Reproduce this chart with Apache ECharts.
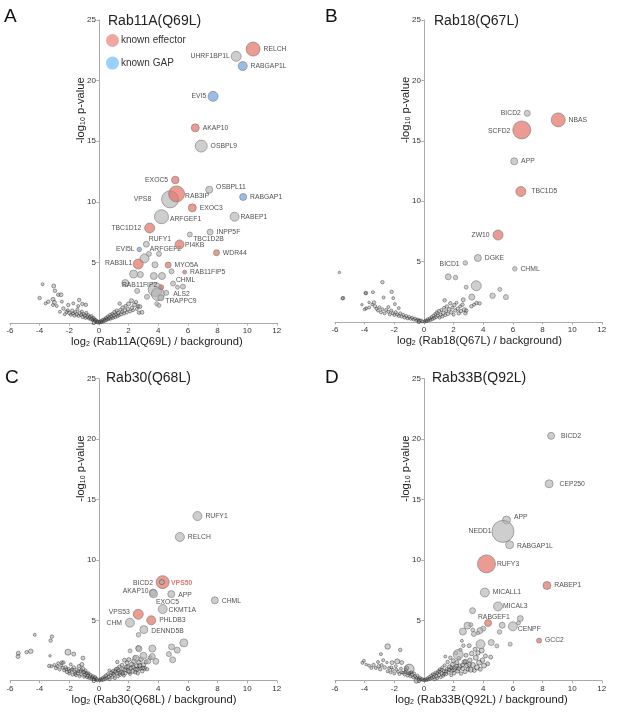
<!DOCTYPE html>
<html><head><meta charset="utf-8">
<style>html,body{margin:0;padding:0;background:#fff}#c{width:617px;height:717px}</style>
<script src="https://cdn.jsdelivr.net/npm/echarts@6/dist/echarts.min.js"></script>
</head><body><div id="c"></div>
<script>
// point = [log2 ratio, -log10 p, marker diameter, gene]
const effectorA=[[10.4,22.6,14,'RELCH'],[6.5,16.1,8,'AKAP10'],[5.15,11.8,7.5,'EXOC5'],[5.24,10.65,16,'RAB3IP'],[6.3,9.5,8,'EXOC3'],[3.42,7.84,10,'TBC1D12'],[5.44,6.48,9,'PI4KB'],[7.93,5.8,6,'WDR44'],[2.65,4.86,10,'RAB3IL1'],[4.67,4.78,6,'MYO5A'],[5.78,4.2,4,'RAB11FIP5'],[4.2,2.95,5,'RAB11FIP2']];
const gapA=[[9.7,21.2,9,'RABGAP1L'],[7.7,18.7,10,'EVI5'],[9.73,10.4,7,'RABGAP1'],[2.72,6.07,4.5,'EVI5L']];
const otherA=[[9.26,22,10,'UHRF1BP1L'],[6.9,14.6,12,'OSBPL9'],[7.44,11,7,'OSBPL11'],[4.8,10.2,17,'VPS8'],[4.22,8.77,14,'ARFGEF1'],[9.15,8.77,9,'RABEP1'],[7.5,7.5,6,'INPP5F'],[6.13,7.3,5,'TBC1D2B'],[3.2,6.5,6,'RUFY1'],[3.37,5.7,5,'ARFGEF2'],[3.07,5.33,9,''],[4.05,5.7,5,''],[3.78,4.8,6,''],[4.9,4.26,5,''],[2.34,4.04,8,''],[2.8,4,6,''],[3.7,3.88,7,''],[4.25,3.88,7,''],[5,3.25,5,'CHML'],[1.78,3.3,7,''],[5.3,2.95,4,''],[5.67,3,5,''],[3.8,2.76,14,''],[3.98,2.38,13,''],[2.58,2.65,5,''],[3.24,2.16,5,''],[4.54,2.49,5,'ALS2'],[4.18,2.08,6,'TRAPPC9'],[3.9,1.58,4,''],[4.05,1.45,4,'']];
const cloudA=[[-3.8,3.2,3],[-3.05,3.05,4],[-2.97,2.66,3.5],[-2.75,2.33,3.5],[-2.56,2.33,4],[-4,2.06,3.5],[-3.6,1.62,3],[-3.42,1.76,3.5],[-3.1,1.95,4],[-3,1.7,4],[-3.1,1.48,3],[-2.85,1.4,3],[-2.5,1.76,3],[-2.4,1.2,3.5],[-2.63,.93,3],[-2.07,1.48,3.5],[-1.73,1.62,3],[-1.33,1.9,3.5],[-1.12,1.57,3.5],[-.88,1.5,3.5],[-1.4,1.4,3],[-2.18,.93,3.5],[-2.3,.72,3],[-2.1,1.05,3],[-2,.82,3.5],[-1.9,.68,3],[-1.8,1.02,3.5],[-1.75,.78,3],[-1.65,.62,3.5],[-1.6,.9,3],[-1.5,.72,3.5],[-1.45,1.12,3],[-1.38,.58,3],[-1.3,.82,3.5],[-1.2,.66,3],[-1.15,.95,3],[-1.1,.5,3.5],[-1.02,.74,3],[-.95,.6,3.5],[-.9,.42,3],[-.85,.85,3],[-.78,.52,3.5],[-.72,.66,3],[-.68,.38,3],[-.6,.48,3.5],[-.55,.3,3],[-.5,.58,3],[-.45,.36,3.5],[-.4,.22,3],[-.35,.42,3],[-.3,.28,3],[-.25,.16,3.5],[-.2,.24,3],[-.16,.1,3],[-.1,.14,3],[-.06,.05,3.5],[.04,.05,3],[.1,.1,3.5],[.15,.16,3],[.2,.08,3],[.25,.24,3.5],[.3,.14,3],[.36,.3,3],[.4,.2,3.5],[.46,.42,3],[.5,.24,3],[.55,.36,3.5],[.6,.55,3],[.66,.3,3],[.7,.44,3.5],[.75,.68,3],[.8,.36,3],[.85,.55,3.5],[.9,.76,3],[.95,.42,3],[1,.62,3.5],[1.05,.9,3.5],[1.1,.48,3],[1.15,.72,3],[1.2,1.02,3.5],[1.25,.56,3],[1.3,.82,3.5],[1.35,.64,3],[1.4,1.6,3.5],[1.45,1.1,3],[1.5,.72,3.5],[1.55,.9,3],[1.6,1.28,3.5],[1.7,.78,3],[1.75,1.05,3.5],[1.8,1.42,3],[1.88,.86,3],[1.95,1.15,3.5],[2,1.58,4],[2.1,.95,3],[2.2,1.84,4],[2.22,1.25,3.5],[2.3,1.05,3],[2.4,1.5,4],[2.5,1.72,3.5],[2.55,1.15,3],[2.65,1.38,3.5],[2.76,1.35,4],[2.7,.85,3.5],[2.9,.88,4]];

const effectorB=[[9.06,16.73,14,'NBAS'],[6.6,15.9,18,'SCFD2'],[6.54,10.8,10,'TBC1D5'],[5,7.2,10,'ZW10']];
const otherB=[[6.97,17.28,6,'BICD2'],[6.09,13.3,7,'APP'],[3.64,5.3,7,'DGKE'],[2.79,4.89,4.5,'BICD1'],[6.13,4.4,4.5,'CHML'],[1.64,3.74,6,''],[2.13,3.68,4.5,''],[2.85,2.88,4,''],[3.53,3,10,''],[5.12,2.7,4,''],[4.63,2.17,5.5,''],[5.53,2.06,5,''],[3.23,2.06,6,'']];
const cloudB=[[-5.7,4.1,2.5],[-5.45,1.98,3.5],[-5.5,1.95,3],[-2.8,3.3,3.5],[-3.9,2.4,3.5],[-3.95,2.38,3],[-3.44,2.47,3],[-2.18,2.5,3.5],[-2.72,2.03,3],[-2.07,1.98,3],[-4.18,1.43,2.5],[-3.7,1.62,2.5],[-3.37,1.62,3.5],[-1.96,1.48,3],[-2.4,1.24,3],[-1.7,1.15,3],[-3.9,1.13,3],[-4,1.05,3],[-3.7,1.2,3],[-3.3,1.3,3.5],[-3.5,1.45,2.5],[-3.2,1.1,3],[-3.1,.95,3],[-3,1.22,3],[-2.9,.8,3],[-2.8,1.05,3],[-2.65,.72,3],[-2.55,1,3],[-2.4,.85,3],[-2.3,.62,3],[-2.2,.95,3],[-2.1,.72,3],[-2,.58,3],[-1.9,.82,3],[-1.8,.62,3],[-1.7,.5,3],[-1.6,.72,3],[-1.5,.45,3],[-1.4,.6,3],[-1.3,.36,3],[-1.2,.5,3],[-1.1,.3,3],[-1,.42,3],[-.9,.26,3],[-.8,.36,3],[-.7,.2,3],[-.6,.28,3],[-.5,.14,3],[-.4,.2,3],[-.3,.1,3],[-.2,.13,3],[-.1,.05,3],[.05,.04,3],[.12,.12,3],[.2,.08,3],[.26,.22,3],[.32,.14,3],[.4,.3,3],[.46,.18,3],[.52,.42,3],[.58,.24,3],[.64,.52,3],[.7,.32,3],[.76,.66,3],[.82,.4,3],[.88,.78,3.5],[.94,.52,3],[1,.9,3.5],[1.06,.36,3],[1.12,.62,3],[1.18,1,3],[1.24,.45,3],[1.3,.75,3.5],[1.4,1.8,3.5],[1.36,1.18,3],[1.44,.56,3],[1.5,.9,3],[1.55,1.28,3.5],[1.62,.68,3.5],[1.7,1.05,3.5],[1.78,1.55,3.5],[1.85,.8,3.5],[1.92,1.2,3],[2,.6,3],[2.05,1.4,3.5],[2.12,.95,3.5],[2.2,1.6,3],[2.28,1.1,3.5],[2.35,.72,3.5],[2.45,1.3,3],[2.5,.9,3.5],[2.6,1.44,3.5],[2.65,1.84,4],[2.72,1.02,4],[2.8,.72,3.5],[2.86,.95,3.5],[3.2,1.3,3.5],[3.55,1.57,3.5],[3.75,1.54,3.5],[3.38,1.44,3]];

const effectorC=[[4.3,8.16,13,'VPS50'],[2.65,5.5,10,'VPS53'],[3.53,5,9,'PHLDB3']];
const otherC=[[6.65,13.63,9,'RUFY1'],[5.46,11.9,9,'RELCH'],[3.64,7.3,7,'AKAP10'],[3.68,7.2,8,'EXOC5'],[4.88,7.17,7,'APP'],[7.82,6.65,7,'CHML'],[4.3,5.93,9,'CKMT1A'],[2.09,4.8,9,'CHM'],[3.03,4.23,8,'DENND5B'],[2.67,3.8,4.5,''],[5.73,3.13,8,''],[3.6,2.66,7,''],[2.7,2.64,6,''],[2.1,2.47,4,''],[4.9,2.8,6,''],[5.28,2.53,6,''],[4.72,2.2,5,''],[4.97,1.73,6,''],[3,2.06,7,''],[3.6,2,6,''],[3.84,1.6,6,''],[3.33,1.6,5,''],[2.5,1.87,6,'']];
const overlapC=[[4.25,8.16,5,'BICD2']];
const cloudC=[[-5.44,2.28,4],[-5.46,2,4],[-4.88,2.36,3.5],[-4.6,2.44,4.5],[-4.33,3.8,3],[-3.17,3.65,3.5],[-3.26,3.32,3.5],[-3.3,2.06,2.5],[-2.09,2.36,6],[-1.7,2.2,4],[-1.08,1.87,4],[-3.35,1.22,3.5],[-3.2,1.2,3],[-3,1.3,3],[-2.9,1.05,3.5],[-2.75,1.45,3],[-2.65,.92,3],[-2.55,1.25,3],[-2.5,1.5,3.5],[-2.4,1.5,3.5],[-2.35,.85,3],[-2.25,1.1,3.5],[-2.15,.72,3.5],[-2.05,.98,3],[-2,.6,3],[-1.9,1.35,3],[-1.85,.85,3.5],[-1.78,.5,3],[-1.7,1.1,3.5],[-1.62,.72,3],[-1.55,.45,3],[-1.5,.9,3.5],[-1.42,.62,3],[-1.35,1.2,3.5],[-1.3,.36,3],[-1.25,.78,3],[-1.2,.52,3],[-1.15,1.35,4],[-1.1,1,4],[-1.05,.68,3],[-1,.32,3],[-.95,.48,3.5],[-.9,.85,3],[-.85,.6,3],[-.8,.28,3],[-.75,.42,3.5],[-.7,.62,3],[-.65,.22,3],[-.6,.34,3.5],[-.55,.48,3],[-.5,.18,3],[-.45,.28,3],[-.4,.38,3],[-.35,.12,3],[-.3,.22,3],[-.25,.3,3],[-.2,.08,3],[-.15,.16,3],[-.1,.04,3],[.06,.06,3],[.12,.14,3],[.18,.04,3],[.24,.22,3],[.3,.1,3.5],[.36,.32,3],[.42,.16,3],[.48,.42,3.5],[.54,.22,3],[.6,.55,3],[.66,.3,3.5],[.72,.12,3],[.78,.46,3],[.84,.66,3.5],[.9,.3,3],[.96,.8,3.5],[1.02,.5,3.5],[1.08,.2,3],[1.14,.95,3.5],[1.2,.62,3.5],[1.24,1.55,3.5],[1.28,.36,3],[1.32,.85,3.5],[1.38,1.15,3.5],[1.44,.5,3.5],[1.5,.72,4],[1.56,1.3,3.5],[1.62,.95,4],[1.68,.42,3],[1.72,1.7,4],[1.78,.62,3.5],[1.84,1.12,4],[1.9,1.48,4],[1.96,.82,4],[2.02,1.75,4],[2.1,.55,3],[2.16,1.05,4],[2.22,1.35,4.5],[2.28,.78,4],[2.36,1.6,4.5],[2.42,1.9,4],[2.48,.95,4],[2.55,1.22,4.5],[2.62,.62,3.5],[2.7,1.5,4.5],[2.78,1.02,4],[2.85,1.78,4.5],[2.92,.8,4],[3,1.3,4.5],[3.08,1.02,4],[3.18,1.55,4],[3.25,.95,3.5],[3.46,1.9,4],[2.65,2.7,5],[.7,.85,3],[.95,.6,3],[1.1,.75,3.5],[1.25,1,3.5],[1.4,.65,3.5],[1.6,.6,3.5],[1.75,.9,4],[1.95,1.15,4],[2.05,.75,4],[2.3,1.15,4],[2.45,.7,3.5],[2.6,.95,4],[2.75,1.25,4.5],[2.95,1.05,4],[-.8,.62,3],[-1,.72,3],[-1.2,.9,3],[-1.4,.8,3],[-1.6,.58,3],[-1.8,.95,3],[-2,.78,3],[-2.2,.95,3],[-2.45,1.08,3],[-2.8,1.18,3]];

const effectorD=[[4.22,9.67,18,'RUFY3'],[8.3,7.88,8,'RABEP1'],[4.33,4.78,7,'RABGEF1'],[7.77,3.32,5,'GCC2']];
const otherD=[[8.58,20.27,7,'BICD2'],[8.45,16.3,8,'CEP250'],[5.57,13.3,8,'APP'],[5.33,12.36,22,'NEDD1'],[5.78,11.26,8,'RABGAP1L'],[12.45,6.95,10,'RAB8A'],[4.11,7.3,9,'MICALL1'],[5,6.15,9,'MICAL3'],[6,4.5,9,'CENPF'],[3.28,5.8,6,''],[2.94,4.56,7,''],[3.17,4.64,4,''],[2.63,4.07,7,''],[4,4.31,5,''],[3.78,4.15,6,''],[3.3,4.2,4,''],[3.37,3.87,5,''],[3.65,3.95,3.5,''],[6.5,5.14,6,''],[6.38,4.78,4,''],[5.28,4.59,6,''],[5.1,4.04,4.5,''],[5.82,3.02,4,''],[4.92,2.88,4,''],[4.54,3.16,6,''],[3.82,3.02,9,''],[2.31,2.17,10,'']];
const cloudD=[[-2.45,2.83,5.5],[-1.6,2.55,3.5],[-2.9,2.2,3],[-4.15,1.48,3],[-4.05,1.65,3],[-3.9,1.35,2.5],[-3.7,1.25,3],[-3.55,1.05,3],[-3.4,1.3,3.5],[-3.25,1.05,3],[-3.1,1.55,3],[-3.05,1.2,3.5],[-2.95,.95,3.5],[-2.85,1.3,3],[-2.75,1.7,3],[-2.65,1.1,3.5],[-2.5,1.5,2.5],[-2.45,.78,3],[-2.35,1.05,3],[-2.25,.7,3],[-2.15,1.5,4],[-2.1,.9,3],[-2,.6,3],[-1.9,1.2,3],[-1.8,1.6,5],[-1.75,.75,3],[-1.65,.55,3],[-1.55,1,3],[-1.5,1.5,4],[-1.42,.66,3],[-1.3,.5,3],[-1.2,.9,3.5],[-1.15,1.05,4],[-1.1,.42,3],[-1,.96,10],[-.95,.64,3],[-.9,.36,3],[-.8,.5,3.5],[-.72,.28,3],[-.66,.6,3],[-.6,.36,3],[-.5,.22,3],[-.5,0,5],[-.44,.42,3],[-.36,.16,3],[-.28,.26,3],[-.2,.1,3],[-.12,.15,3],[-.06,.05,3],[.06,.05,3],[.12,.12,3],[.18,.05,3],[.24,.2,3],[.3,.1,3],[.36,.3,3],[.42,.16,3],[.48,.42,3],[.54,.22,3],[.6,.54,3],[.66,.3,3],[.72,.12,3],[.78,.66,3],[.84,.38,3.5],[.9,.2,3],[.96,.8,3],[1.02,.48,3.5],[1.08,.95,3],[1.14,.3,3],[1.2,.62,3.5],[1.24,1.1,3],[1.3,.4,3],[1.36,.78,3.5],[1.4,1.28,3],[1.44,2,3],[1.48,.55,3.5],[1.54,.95,3.5],[1.6,1.55,3.5],[1.66,.68,3.5],[1.72,1.15,4],[1.78,1.9,3.5],[1.84,.45,3],[1.88,.85,4],[1.92,1.35,4],[1.98,1.65,4],[2.04,.62,3.5],[2.1,1.05,4.5],[2.16,2.3,3.5],[2.22,1.5,4],[2.28,.8,4],[2.36,1.85,4],[2.42,1.2,4.5],[2.46,2.55,3.5],[2.5,.6,3.5],[2.56,3.3,3],[2.62,1,4],[2.66,2.9,3.5],[2.72,1.55,4.5],[2.78,.75,4],[2.84,2.1,4],[2.9,1.25,4.5],[2.98,.95,4],[3.05,2.9,4],[3.1,1.7,4.5],[3.16,.9,5],[3.22,2.25,4.5],[3.3,1.3,5],[3.4,.85,4],[3.45,2.6,4],[3.5,1.9,5],[3.58,1.1,5],[3.64,2.3,4.5],[3.72,1.5,5],[3.8,.95,4],[3.9,2.5,5],[3.95,1.7,4.5],[4.05,1.25,5],[4.15,2.05,4],[4.3,1.4,4],[4.5,1.95,4],[.7,.5,3],[.9,.62,3],[1.05,.75,3],[1.2,.9,3],[1.35,.55,3],[1.5,.78,3.5],[1.7,.92,3.5],[1.85,1.05,3.5],[2,.9,4],[2.2,1.2,4],[2.35,1,4],[2.6,1.3,4],[2.8,1.6,4],[3.05,1.35,4.5],[-.85,.7,3],[-1.05,.6,3],[-1.25,.72,3],[-1.5,.7,3],[-1.85,.9,3],[-2.2,1.1,3]];

const panels=[
 {letter:'A',title:'Rab11A(Q69L)',left:10,top:20,h:303,xName:'Rab11A(Q69L)',xShift:27,lx:4,ly:7,tx:108,ty:14,eff:effectorA,gap:gapA,other:otherA,top2:[],cloud:cloudA},
 {letter:'B',title:'Rab18(Q67L)',left:335,top:20,h:302,xName:'Rab18(Q67L)',xShift:22,lx:325,ly:7,tx:434,ty:14,eff:effectorB,gap:[],other:otherB,top2:[],cloud:cloudB},
 {letter:'C',title:'Rab30(Q68L)',left:10,top:378.7,h:302,xName:'Rab30(Q68L)',xShift:21,lx:5,ly:368,tx:106,ty:371,eff:effectorC,gap:[],other:otherC,top2:overlapC,cloud:cloudC},
 {letter:'D',title:'Rab33B(Q92L)',left:335,top:378.7,h:302,xName:'Rab33B(Q92L)',xShift:26,lx:325,ly:368,tx:432,ty:371,eff:effectorD,gap:[],other:otherD,top2:[],cloud:cloudD}
];
// label placement per panel: [side, dx, dy]; anything missing sits on the right
const placement=[
 {UHRF1BP1L:['left',2,0],EVI5:['left',1.5,0],EXOC5:['left',0,0],VPS8:['left',-7,0],TBC1D12:['left',0,0],EVI5L:['left',1,0],RAB3IL1:['left',2.5,-1],RAB11FIP2:['left',2,-2],OSBPL11:['right',0,-3],RAB3IP:['right',-3,2],ARFGEF1:['right',-2,2],RABEP1:['right',-2,0],TBC1D2B:['right',-2.5,5],RUFY1:['right',-4,-5],PI4KB:['right',-2.5,1],ARFGEF2:['right',-5,-5],CHML:['right',-3,-3],ALS2:['right',1,1],TRAPPC9:['right',-2,3]},
 {BICD2:['left',0,0],SCFD2:['left',1,1.5],TBC1D5:['right',2,0],ZW10:['left',0,0],BICD1:['left',0,1]},
 {BICD2:['left',-3,1],AKAP10:['left',2.5,-1],EXOC5:['right',-5,8],VPS50:['right',-1.5,1],APP:['right',0,1],CHML:['right',0,1],CKMT1A:['right',-2,1],VPS53:['left',0,-2],CHM:['left',0,0],DENND5B:['right',0,2]},
 {BICD2:['right',3,0],CEP250:['right',3,0],APP:['right',0,-3],NEDD1:['left',3,0],RABGAP1L:['right',0,1],RUFY3:['right',-2,0],RAB8A:['left',0,0],MICAL3:['right',-3,0],RABGEF1:['top',5.7,5],CENPF:['right',-3,3]}
];
const RED='rgba(226,112,98,.88)',BLUE='rgba(118,165,222,.92)',GREY='rgba(178,178,178,.8)';
const EDGE='#7c7c7c';
const FONT='Liberation Sans';
const series=[],grid=[],xAxis=[],yAxis=[],title=[];
function toData(arr,pi){return arr.map(p=>{
  const d={value:[p[0],p[1],p[2]],name:p[3]};
  if(p[3]){const pl=placement[pi][p[3]]||['right',0,0];
    d.label={show:true,position:pl[0],offset:[pl[1],pl[2]],formatter:p[3],distance:3,fontSize:6.8,fontFamily:FONT,color:p[3]==='VPS50'?'#d9534f':'#222',fontWeight:p[3]==='VPS50'?'bold':'normal'};}
  return d;});}
const subStyle={fontSize:7,fontFamily:FONT,color:'#222',padding:[5,0,0,0]};
panels.forEach((p,i)=>{
  const zeroOffset=-266.8*6/18;
  grid.push({left:p.left,top:p.top,width:266.8,height:p.h,containLabel:false,outerBoundsMode:'none'});
  xAxis.push({gridIndex:i,type:'value',min:-6,max:12,interval:2,splitLine:{show:false},
    axisLine:{onZero:false,lineStyle:{color:'#aaa',width:1}},axisTick:{length:2.5,lineStyle:{color:'#aaa'}},
    axisLabel:{fontSize:8,color:'#333',fontFamily:FONT,margin:4,showMinLabel:true,showMaxLabel:true},
    name:'log{s|2} ('+p.xName+' / background)',nameLocation:'middle',nameGap:13,
    nameTextStyle:{fontSize:11.2,color:'#222',fontFamily:FONT,padding:[0,0,0,p.xShift],rich:{s:subStyle}}});
  yAxis.push({gridIndex:i,type:'value',min:0,max:25,interval:5,position:'left',offset:zeroOffset,splitLine:{show:false},
    axisLine:{onZero:false,lineStyle:{color:'#aaa',width:1}},axisTick:{length:2.5,lineStyle:{color:'#aaa'}},
    axisLabel:{fontSize:8,color:'#333',fontFamily:FONT,margin:3},
    name:'-log{s|10} p-value',nameLocation:'middle',nameGap:12,nameRotate:90,nameMoveOverlap:false,
    nameTextStyle:{fontSize:11.2,color:'#222',fontFamily:FONT,padding:[0,0,0,122],rich:{s:subStyle}}});
  title.push({text:p.letter,left:p.lx,top:p.ly,padding:0,textStyle:{fontSize:19,fontWeight:'normal',color:'#111',fontFamily:FONT}});
  title.push({text:p.title,left:p.tx,top:p.ty,padding:0,textStyle:{fontSize:14,fontWeight:'normal',color:'#222',fontFamily:FONT}});
  const base={type:'scatter',xAxisIndex:i,yAxisIndex:i,symbolSize:v=>v[2],animation:false,emphasis:{disabled:true}};
  series.push({...base,name:'cloud'+p.letter,data:p.cloud.map(c=>({value:c})),z:1,itemStyle:{color:'rgba(140,140,140,.5)',borderColor:'rgba(30,30,30,.75)',borderWidth:.7}});
  series.push({...base,name:'other'+p.letter,data:toData(p.other,i),z:2,itemStyle:{color:GREY,borderColor:EDGE,borderWidth:.8}});
  series.push({...base,name:i===0?'known effector':'effector'+p.letter,data:toData(p.eff,i),z:3,itemStyle:{color:RED,borderColor:EDGE,borderWidth:.8}});
  if(p.gap.length)series.push({...base,name:'known GAP',data:toData(p.gap,i),z:3,itemStyle:{color:BLUE,borderColor:EDGE,borderWidth:.8}});
  if(p.top2.length)series.push({...base,name:'overlap'+p.letter,data:toData(p.top2,i),z:4,itemStyle:{color:GREY,borderColor:'#555',borderWidth:.8}});
});
const chart=echarts.init(document.getElementById('c'),null,{renderer:'canvas'});
chart.setOption({animation:false,backgroundColor:'#fff',grid,xAxis,yAxis,title,series,
  legend:{left:106,top:34,padding:0,orient:'vertical',itemWidth:13,itemHeight:13,itemGap:9.6,selectedMode:false,
    textStyle:{fontSize:10,color:'#333',fontFamily:FONT,padding:[0,0,0,-3]},
    data:[{name:'known effector',icon:'circle',itemStyle:{color:'#EC9089',borderWidth:0}},{name:'known GAP',icon:'circle',itemStyle:{color:'#7FC4FF',borderWidth:0}}]}});
</script></body></html>
